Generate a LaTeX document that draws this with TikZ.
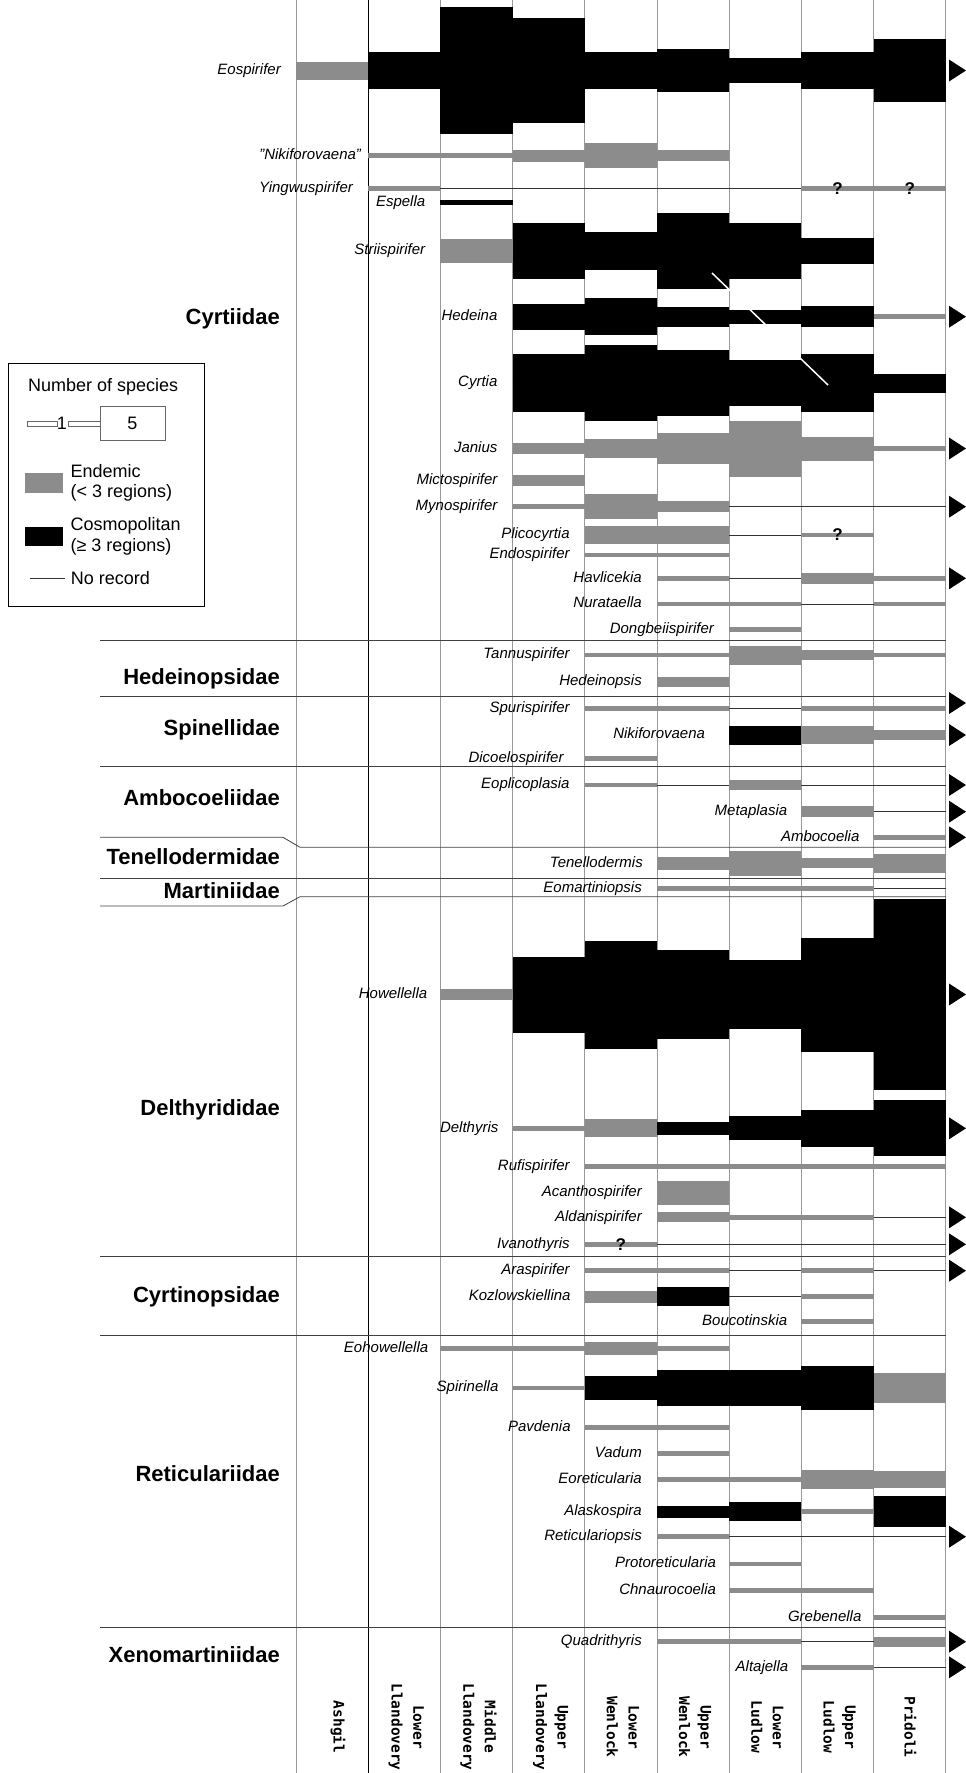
\documentclass[tikz,border=0pt]{standalone}
\usepackage{fontspec}
\setmainfont{Liberation Sans}
\newfontfamily\stagefont{DejaVu Sans Mono}
\usepackage{tikz}
\usetikzlibrary{positioning}

\begin{document}
\begin{tikzpicture}[x=1pt, y=-1pt,
        genus/.style={font=\fontsize{15}{18}\selectfont\itshape, inner sep=0pt, text height=10.8pt, text depth=3.2pt, anchor=east},
        family/.style={font=\fontsize{22}{26}\selectfont\bfseries, inner sep=0pt, text height=16pt, text depth=4.6pt, anchor=east},
        stage/.style={font=\stagefont\bfseries\fontsize{14.5}{21.6}\selectfont, align=center, rotate=-90, inner sep=0pt},
        legtext/.style={font=\fontsize{18}{20.6}\selectfont, inner sep=0pt, align=left},
        query/.style={font=\fontsize{17}{17}\selectfont\bfseries, inner sep=0pt},
        gridline/.style={black!40, line width=0.7pt},
        famline/.style={black!75, line width=0.8pt},
        norec/.style={black!80, line width=0.6pt},
        endemic/.style={fill=black!45},
        cosmo/.style={fill=black}]
        \useasboundingbox (0,0) rectangle (966,1773);

        % Stage columns
        \foreach \c in {0,2,3,...,9}
            \draw[gridline] ({296+72.2*\c},0) -- ({296+72.2*\c},1773);
        \draw[line width=1.3pt] (368.2,0) -- (368.2,1773);

        % Family dividers
        \foreach \y in {640,696,766,878.3,1256,1335,1627.3}
            \draw[famline] (100,\y) -- (946,\y);
        \draw[famline] (100,837.3) -- (283,837.3) -- (300,847.3) -- (946,847.3);
        \draw[famline] (100,906) -- (283,906) -- (300,896.7) -- (946,896.7);

        % Genera: name/label/row/first/last/gap
        \foreach \n/\t/\y/\s/\e/\g in {
            eospirifer/Eospirifer/70.5/0/8/15, nikiforovaenaq/"Nikiforovaena"/155.7/1/5/7,
            yingwuspirifer/Yingwuspirifer/188.3/1/8/15, espella/Espella/202.3/2/2/15,
            striispirifer/Striispirifer/251/2/7/15, hedeina/Hedeina/316.7/3/8/15,
            cyrtia/Cyrtia/383/3/8/15, janius/Janius/448.5/3/8/15,
            mictospirifer/Mictospirifer/480.5/3/3/15, mynospirifer/Mynospirifer/506.7/3/8/15,
            plicocyrtia/Plicocyrtia/535/4/7/15, endospirifer/Endospirifer/555/4/5/15,
            havlicekia/Havlicekia/578.3/5/8/15, nurataella/Nurataella/604/5/8/15,
            dongbeiispirifer/Dongbeiispirifer/629.3/6/6/15,
            tannuspirifer/Tannuspirifer/655/4/8/15, hedeinopsis/Hedeinopsis/681.7/5/5/15,
            spurispirifer/Spurispirifer/708.3/4/8/15, nikiforovaena/Nikiforovaena/735/6/8/24,
            dicoelospirifer/Dicoelospirifer/758.3/4/4/21,
            eoplicoplasia/Eoplicoplasia/785/4/8/15, metaplasia/Metaplasia/811.7/7/8/14,
            ambocoelia/Ambocoelia/837.3/8/8/14,
            tenellodermis/Tenellodermis/863.3/5/8/14, eomartiniopsis/Eomartiniopsis/888.3/5/8/15,
            howellella/Howellella/994.5/2/8/13, delthyris/Delthyris/1128.3/3/8/14,
            rufispirifer/Rufispirifer/1166.7/4/8/15, acanthospirifer/Acanthospirifer/1192.7/5/5/15,
            aldanispirifer/Aldanispirifer/1217.3/5/8/15, ivanothyris/Ivanothyris/1244.3/4/8/15,
            araspirifer/Araspirifer/1270.7/4/8/15, kozlowskiellina/Kozlowskiellina/1296.7/4/7/14,
            boucotinskia/Boucotinskia/1321.7/7/7/14,
            eohowellella/Eohowellella/1348.3/2/5/12, spirinella/Spirinella/1388/3/8/14,
            pavdenia/Pavdenia/1427.7/4/5/14, vadum/Vadum/1453.3/5/5/15,
            eoreticularia/Eoreticularia/1479.3/5/8/15, alaskospira/Alaskospira/1511.7/5/8/15,
            reticulariopsis/Reticulariopsis/1536.7/5/8/15, protoreticularia/Protoreticularia/1564/6/6/13,
            chnaurocoelia/Chnaurocoelia/1590.7/6/7/13, grebenella/Grebenella/1617.7/8/8/12,
            quadrithyris/Quadrithyris/1641.7/5/8/15, altajella/Altajella/1667.3/7/8/13}
        {
            \node[genus] (\n) at ({296+72.2*\s-\g},\y) {\t};
            \draw[norec] ({296+72.2*\s},\y) -- ({368.2+72.2*\e},\y);
        }

        % Species bars: column/row/half height/type
        \foreach \c/\y/\h/\f in {
            0/70.5/9/endemic, 1/70.5/18.8/cosmo, 2/70.5/63.8/cosmo, 3/70.5/52.5/cosmo, 4/70.5/18.8/cosmo,
            5/70.5/21.8/cosmo, 6/70.5/12.2/cosmo, 7/70.5/18.8/cosmo, 8/70.5/31.2/cosmo,
            3/155.7/5.8/endemic, 4/155.7/12.5/endemic, 5/155.7/5.5/endemic,
            2/202.3/2.4/cosmo,
            2/251/12.3/endemic, 3/251/28.3/cosmo, 4/251/19.2/cosmo, 5/251/37.7/cosmo, 6/251/28.3/cosmo, 7/251/12.7/cosmo,
            3/316.7/13/cosmo, 4/316.7/18.3/cosmo, 5/316.7/10/cosmo, 6/316.7/7/cosmo, 7/316.7/10.5/cosmo,
            3/383/29.2/cosmo, 4/383/38.3/cosmo, 5/383/33/cosmo, 6/383/23/cosmo, 7/383/29.2/cosmo, 8/383/9.5/cosmo,
            3/448.5/5.8/endemic, 4/448.5/9.7/endemic, 5/448.5/15.3/endemic, 6/448.5/28/endemic, 7/448.5/12/endemic,
            3/480.5/5.5/endemic, 4/506.7/12.7/endemic, 5/506.7/5.5/endemic,
            4/535/9/endemic, 5/535/9/endemic, 7/578.3/5.7/endemic,
            6/655/9.5/endemic, 7/655/5.3/endemic, 5/681.7/5/endemic,
            6/735/9.5/cosmo, 7/735/8.7/endemic, 8/735/5/endemic,
            6/785/4.7/endemic, 7/811.7/5.3/endemic,
            5/863.3/6.7/endemic, 6/863.3/12.7/endemic, 7/863.3/5/endemic, 8/863.3/9.3/endemic,
            2/994.5/5.3/endemic, 3/994.5/38/cosmo, 4/994.5/54/cosmo, 5/994.5/44.3/cosmo,
            6/994.5/34.7/cosmo, 7/994.5/57/cosmo, 8/994.5/95.5/cosmo,
            4/1128.3/9/endemic, 5/1128.3/6.3/cosmo, 6/1128.3/12/cosmo, 7/1128.3/18.8/cosmo, 8/1128.3/28/cosmo,
            5/1192.7/12.2/endemic, 5/1217.3/5/endemic,
            4/1296.7/6/endemic, 5/1296.7/9.3/cosmo, 4/1348.3/6.2/endemic,
            4/1388/12/cosmo, 5/1388/18.3/cosmo, 6/1388/18.3/cosmo, 7/1388/22.2/cosmo, 8/1388/15/endemic,
            7/1479.3/9.2/endemic, 8/1479.3/8.3/endemic,
            5/1511.7/6/cosmo, 6/1511.7/9.3/cosmo, 8/1511.7/15.5/cosmo,
            8/1641.7/5/endemic}
            \fill[\f] ({296+72.2*\c},{\y-\h}) rectangle ({368.2+72.2*\c},{\y+\h});

        % Single species
        \foreach \c/\y in {
            1/155.7, 2/155.7, 1/188.3, 7/188.3, 8/188.3, 8/316.7, 8/448.5, 3/506.7, 7/535,
            4/555, 5/555, 5/578.3, 8/578.3, 5/604, 6/604, 8/604, 6/629.3,
            4/655, 5/655, 8/655, 4/708.3, 5/708.3, 7/708.3, 8/708.3, 4/758.3, 4/785, 8/837.3,
            5/888.3, 6/888.3, 7/888.3, 3/1128.3, 4/1166.7, 5/1166.7, 6/1166.7, 7/1166.7, 8/1166.7,
            6/1217.3, 7/1217.3, 4/1244.3, 4/1270.7, 5/1270.7, 7/1270.7, 7/1296.7, 7/1321.7,
            2/1348.3, 3/1348.3, 5/1348.3, 3/1388, 4/1427.7, 5/1427.7, 5/1453.3,
            5/1479.3, 6/1479.3, 7/1511.7, 5/1536.7, 6/1564, 6/1590.7, 7/1590.7, 8/1617.7,
            5/1641.7, 6/1641.7, 7/1667.3}
            \fill[endemic] ({296+72.2*\c},{\y-2.4}) rectangle ({368.2+72.2*\c},{\y+2.4});

        \draw[white, line width=1.5pt] (712,273) -- (828,385);

        % Uncertain records
        \node (queryyinga) [query] at (837.5,188.3) {?};
        \node (queryyingb) [query] at (909.7,188.3) {?};
        \node (queryplico) [query] at (837.5,535) {?};
        \node (queryivano) [query] at (620.9,1244.3) {?};

        % Ranging into the Devonian
        \foreach \y in {70.5,316.7,448.5,506.7,578.3,703,735,785,811.7,837.3,994.5,1128.3,1217.3,1244.3,1270.7,1536.7,1641.7,1667.3}
            \fill (949,{\y-11}) -- (966,\y) -- (949,{\y+11}) -- cycle;

        % Families
        \node (cyrtiidae) [family] at (280,318.3) {Cyrtiidae};
        \node (hedeinopsidae) [family] at (280,678.3) {Hedeinopsidae};
        \node (spinellidae) [family] at (280,730) {Spinellidae};
        \node (ambocoeliidae) [family] at (280,800) {Ambocoeliidae};
        \node (tenellodermidae) [family] at (280,858.3) {Tenellodermidae};
        \node (martiniidae) [family] at (280,893) {Martiniidae};
        \node (delthyrididae) [family] at (280,1110) {Delthyrididae};
        \node (cyrtinopsidae) [family] at (280,1297) {Cyrtinopsidae};
        \node (reticulariidae) [family] at (280,1476) {Reticulariidae};
        \node (xenomartiniidae) [family] at (280,1656.7) {Xenomartiniidae};

        % Stages
        \node (ashgil) [stage] at (338,1727) {Ashgil};
        \node (lowllan) [stage] at (406.3,1727) {Lower\\Llandovery};
        \node (midllan) [stage] at (478.5,1727) {Middle\\Llandovery};
        \node (uppllan) [stage] at (550.7,1727) {Upper\\Llandovery};
        \node (lowwen) [stage] at (622.9,1727) {Lower\\Wenlock};
        \node (uppwen) [stage] at (695.1,1727) {Upper\\Wenlock};
        \node (lowlud) [stage] at (767.3,1727) {Lower\\Ludlow};
        \node (upplud) [stage] at (839.5,1727) {Upper\\Ludlow};
        \node (pridoli) [stage] at (910.5,1727) {Pridoli};

        % Legend
        \draw[line width=0.8pt] (8,363) rectangle (204,606);
        \node (legtitle) [legtext, anchor=west] at (28,386.7) {Number of species};
        \draw[black!60, fill=white, line width=0.5pt] (27,421) rectangle (57,426);
        \node (legone) [legtext] at (62,423.5) {1};
        \draw[black!60, fill=white, line width=0.5pt] (68,421) rectangle (100,426);
        \node (legfive) [legtext, draw=black!60, line width=0.5pt, minimum width=65pt, minimum height=34pt] at (132.5,423) {5};
        \node (swendemic) [endemic, minimum width=38pt, minimum height=20.6pt, inner sep=0pt] at (44.2,483) {};
        \node (txendemic) [legtext, right=7pt of swendemic] {Endemic\\(< 3 regions)};
        \node (swcosmo) [cosmo, minimum width=38pt, minimum height=19.3pt, inner sep=0pt] at (44.2,536.3) {};
        \node (txcosmo) [legtext, right=7pt of swcosmo] {Cosmopolitan\\(≥ 3 regions)};
        \coordinate (norecstart) at (30,578.3);
        \node (txnorec) [legtext, anchor=west] at (70.7,578.3) {No record};
        \draw[norec] (norecstart) -- ++(35,0);
\end{tikzpicture}
\end{document}
